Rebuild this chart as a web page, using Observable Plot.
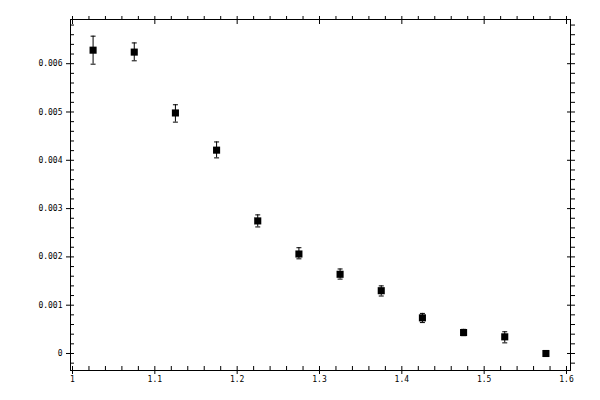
<!DOCTYPE html>
<html><head><meta charset="utf-8">
<script src="https://cdn.jsdelivr.net/npm/d3@7"></script>
<script src="https://cdn.jsdelivr.net/npm/@observablehq/plot@0.6"></script>
<style>body{margin:0;background:#fff}</style>
</head><body><div id="chart"></div>
<script>
const xValues = [1.025,1.075,1.125,1.175,1.225,1.275,1.325,1.375,1.425,1.475,1.525,1.575];
const yValues = [0.00628,0.00624,0.00498,0.00421,0.002745,0.00206,0.00164,0.00130,0.000738,0.000434,0.000345,0.0];
const yLow    = [0.00599,0.00606,0.00479,0.00405,0.00262,0.00196,0.00154,0.00119,0.00064,0.00037,0.00022,-0.00001];
const yHigh   = [0.00657,0.00643,0.00515,0.00438,0.00287,0.00219,0.00175,0.00140,0.00083,0.00050,0.00045,0.00001];

const xTicks = [1,1.1,1.2,1.3,1.4,1.5,1.6];
const xTickLabels = ["1","1.1","1.2","1.3","1.4","1.5","1.6"];
const yTicks = [0,0.001,0.002,0.003,0.004,0.005,0.006];
const yTickLabels = ["0","0.001","0.002","0.003","0.004","0.005","0.006"];

const xMinor = d3.range(0, 31).map(i => +(1 + i*0.02).toFixed(2)).filter(v => !xTicks.includes(v));
const yMinor = d3.range(-1, 35).map(i => +(i*0.0002).toFixed(4)).filter(v => !yTicks.some(t => Math.abs(t - v) < 1e-9));

const data = xValues.map((x, i) => ({x, y: yValues[i], lo: yLow[i], hi: yHigh[i]}));

const cap = {draw(ctx) { ctx.moveTo(-2.5, 0); ctx.lineTo(2.5, 0); }};
const font = {fontFamily: "DejaVu Sans Mono", fontSize: 8};
const blank = () => "";
const xFmt = d => xTickLabels[xTicks.indexOf(d)];
const yFmt = d => yTickLabels[yTicks.indexOf(d)];

const chart = Plot.plot({
  width: 600, height: 400,
  marginLeft: 70, marginRight: 30, marginTop: 19, marginBottom: 30,
  style: {fontFamily: "DejaVu Sans Mono", fontSize: "8px", color: "black", background: "white"},
  x: {domain: [0.99757, 1.60486]},
  y: {domain: [-0.000352, 0.006915]},
  marks: [
    Plot.frame({stroke: "black"}),
    // bottom
    Plot.axisX({anchor: "bottom", ticks: xTicks, tickSize: 4, tickPadding: 2, tickFormat: xFmt, label: null, ...font}),
    Plot.axisX({anchor: "bottom", ticks: xTicks, tickSize: -4, tickFormat: blank, label: null}),
    Plot.axisX({anchor: "bottom", ticks: xMinor, tickSize: -4, tickFormat: blank, label: null}),
    // top
    Plot.axisX({anchor: "top", ticks: xTicks, tickSize: 4, tickFormat: blank, label: null}),
    Plot.axisX({anchor: "top", ticks: xTicks, tickSize: -4, tickFormat: blank, label: null}),
    Plot.axisX({anchor: "top", ticks: xMinor, tickSize: 4, tickFormat: blank, label: null}),
    // left
    Plot.axisY({anchor: "left", ticks: yTicks, tickSize: 4, tickPadding: 4, tickFormat: yFmt, label: null, ...font}),
    Plot.axisY({anchor: "left", ticks: yTicks, tickSize: -4, tickFormat: blank, label: null}),
    Plot.axisY({anchor: "left", ticks: yMinor, tickSize: -4, tickFormat: blank, label: null}),
    // right
    Plot.axisY({anchor: "right", ticks: yTicks, tickSize: 4, tickFormat: blank, label: null}),
    Plot.axisY({anchor: "right", ticks: yTicks, tickSize: -4, tickFormat: blank, label: null}),
    Plot.axisY({anchor: "right", ticks: yMinor, tickSize: 4, tickFormat: blank, label: null}),
    // error bars
    Plot.ruleX(data, {x: "x", y1: "lo", y2: "hi", stroke: "black", strokeWidth: 1}),
    Plot.dot(data, {x: "x", y: "lo", symbol: cap, stroke: "black", strokeWidth: 1, r: 3}),
    Plot.dot(data, {x: "x", y: "hi", symbol: cap, stroke: "black", strokeWidth: 1, r: 3}),
    // markers
    Plot.dot(data, {x: "x", y: "y", symbol: "square", r: 4, fill: "black", stroke: "none"})
  ]
});
document.getElementById("chart").appendChild(chart);
</script>
</body></html>
